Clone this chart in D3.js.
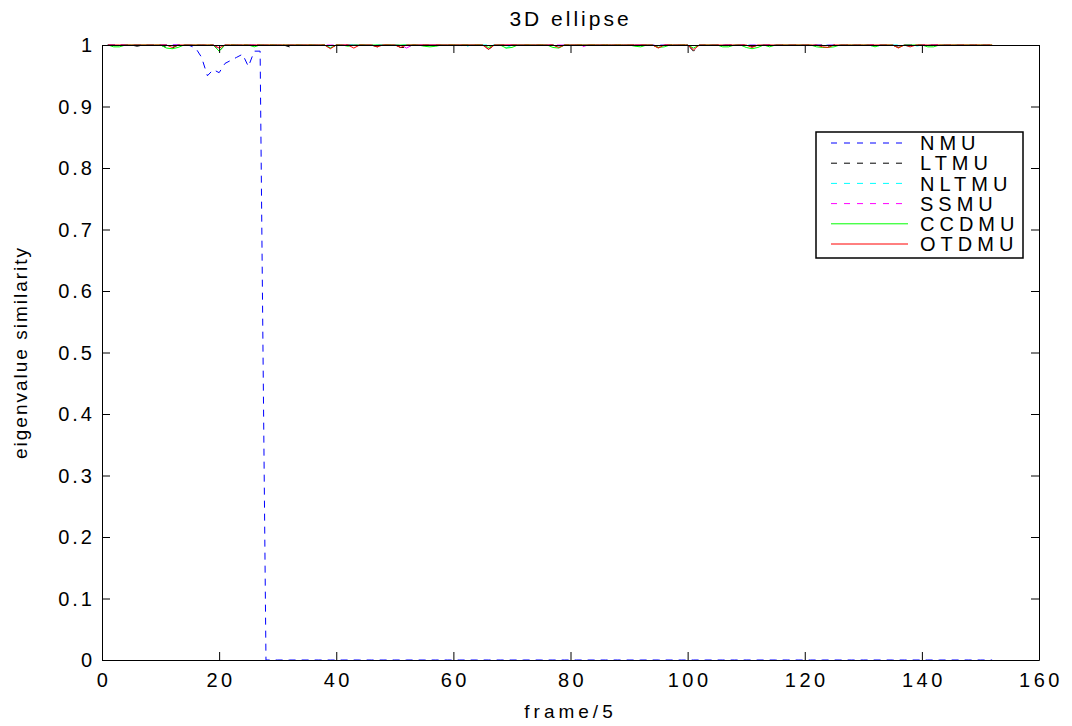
<!DOCTYPE html>
<html>
<head>
<meta charset="utf-8">
<script src="https://cdn.jsdelivr.net/npm/d3@7"></script>
<style>
body{margin:0;background:#fff;}
text{font-family:"Liberation Sans",Arial,Helvetica,sans-serif;fill:#000;}
</style>
</head>
<body>
<svg id="chart"></svg>
<script>
// values, x = 1..152
var NMU = [
1,1,1,1,1,1,1,1,1,1,
1,1,1,1,0.999,0.995,0.98,0.95,0.96,0.955,
0.97,0.975,0.98,0.985,0.965,0.99,0.99,0,0,0,
0,0,0,0,0,0,0,0,0,0,
0,0,0,0,0,0,0,0,0,0,
0,0,0,0,0,0,0,0,0,0,
0,0,0,0,0,0,0,0,0,0,
0,0,0,0,0,0,0,0,0,0,
0,0,0,0,0,0,0,0,0,0,
0,0,0,0,0,0,0,0,0,0,
0,0,0,0,0,0,0,0,0,0,
0,0,0,0,0,0,0,0,0,0,
0,0,0,0,0,0,0,0,0,0,
0,0,0,0,0,0,0,0,0,0,
0,0,0,0,0,0,0,0,0,0,
0,0];
var LTMU = [
1,1,1,1,1,0.998,1,1,1,1,
0.996,0.995,1,1,1,1,1,1,1,0.99,
1,1,1,1,1,1,1,1,1,1,
1,0.997,1,1,1,1,1,1,0.995,1,
1,1,1,1,1,1,0.997,1,1,1,
0.996,0.996,1,1,1,1,1,1,1,1,
1,1,1,1,1,0.993,1,1,1,1,
1,1,1,1,1,1,1,0.997,1,1,
1,1,1,1,1,1,1,1,1,1,
1,1,1,1,0.996,1,1,1,1,1,
0.99,1,1,1,1,1,1,1,1,1,
0.997,1,1,1,1,1,1,1,1,1,
1,1,1,0.998,1,1,1,1,1,1,
1,1,1,1,1,0.996,1,1,1,1,
1,1,1,1,1,1,1,1,1,1,
1,1];
var NLTMU = [
1,1,1,1,1,1,1,1,1,1,
1,0.997,1,1,1,1,1,1,1,0.993,
1,1,1,1,1,1,1,1,1,1,
1,1,1,1,1,1,1,1,0.996,1,
1,1,1,1,1,1,1,1,1,1,
1,1,1,1,1,1,1,1,1,1,
1,0.997,1,1,1,1,1,1,0.995,1,
1,1,1,1,1,1,1,0.998,1,1,
1,1,1,1,1,1,1,1,1,1,
1,1,1,1,1,1,1,1,1,1,
0.993,1,1,1,1,1,1,1,1,1,
1,1,1,1,1,1,1,1,1,1,
1,1,1,1,1,1,1,1,1,1,
1,0.997,1,1,1,1,1,0.997,0.998,1,
1,1,1,1,1,1,1,1,1,1,
1,1];
var SSMU = [
1,1,1,1,1,1,1,1,1,1,
1,1,1,1,1,1,1,1,1,0.994,
1,1,1,1,1,1,1,1,1,1,
1,1,1,1,1,1,1,1,1,1,
1,1,1,1,1,1,1,1,1,1,
1,0.995,1,1,1,1,1,1,1,1,
1,1,1,1,1,0.994,1,1,1,1,
1,1,1,1,1,1,1,1,1,1,
1,0.997,1,1,1,1,1,1,1,1,
1,1,1,1,1,1,1,1,1,1,
0.994,1,1,1,1,1,1,1,1,1,
1,1,1,1,1,1,1,1,1,1,
1,1,1,1,1,1,1,1,1,1,
1,1,1,1,1,0.997,1,1,1,1,
1,1,1,1,1,1,1,1,1,1,
1,1];
var CCDMU = [
1,0.997,0.997,1,1,1,1,1,1,1,
0.995,0.994,0.996,1,1,1,1,1,1,0.99,
1,1,1,1,1,0.997,1,1,1,1,
1,1,1,1,1,1,1,1,0.995,1,
1,0.998,1,1,1,1,1,1,1,1,
1,1,1,1,0.998,0.997,0.998,1,1,1,
1,1,1,1,1,0.996,1,1,0.995,0.996,
1,1,1,1,1,1,0.996,0.995,1,1,
1,1,1,1,1,1,1,1,1,1,
0.998,0.997,1,1,0.996,0.997,1,1,1,1,
0.995,1,1,1,1,0.997,0.997,1,1,0.996,
0.994,0.996,1,0.997,1,1,1,1,1,1,
1,0.997,0.996,0.996,0.997,1,1,1,1,1,
1,0.997,1,1,1,0.996,1,1,1,1,
0.997,0.997,1,1,1,1,1,1,1,1,
1,1];
var OTDMU = [
1,1,1,1,1,1,1,1,1,1,
1,0.996,1,1,1,1,1,1,1,0.995,
1,1,1,1,1,1,1,1,1,1,
1,1,1,1,1,1,1,1,0.994,1,
1,1,0.995,1,1,1,0.997,1,1,1,
0.996,1,1,1,1,1,1,1,1,1,
1,1,1,1,1,0.993,1,1,1,1,
1,1,1,1,1,1,1,0.996,1,1,
1,1,1,1,1,1,1,1,1,1,
1,1,1,1,0.995,1,1,1,1,1,
0.992,1,1,1,1,1,1,1,1,1,
0.996,1,1,1,1,1,1,1,1,1,
1,1,0.997,0.996,1,1,1,1,1,1,
1,1,1,1,1,0.995,1,0.997,1,1,
1,1,1,1,1,1,1,1,1,1,
1,1];

var seriesNames = ["NMU","LTMU","NLTMU","SSMU","CCDMU","OTDMU"];
var seriesValues = [NMU,LTMU,NLTMU,SSMU,CCDMU,OTDMU];
var seriesColors = ["#0000ff","#000000","#00ffff","#ff00ff","#00ff00","#ff0000"];
var seriesDashed = [true,true,true,true,false,false];
var xTicks = [0,20,40,60,80,100,120,140,160];
var yTicks = [0,0.1,0.2,0.3,0.4,0.5,0.6,0.7,0.8,0.9,1];

var screen = {width:1072, height:726};
var margins = {top:45, bottom:66, left:102, right:33};
var graph = {
    width:screen.width-margins.left-margins.right,
    height:screen.height-margins.top-margins.bottom
};

var svg = d3.select("#chart")
    .attr("width",screen.width)
    .attr("height",screen.height);

var xScale = d3.scaleLinear().domain([0,160]).range([0,graph.width]);
var yScale = d3.scaleLinear().domain([0,1]).range([graph.height,0]);

var g = svg.append("g")
    .attr("transform","translate("+margins.left+","+margins.top+")");

// lines
var lineGenerator = d3.line()
    .x(function(v,i){return xScale(i+1);})
    .y(function(v){return yScale(v);});

g.selectAll(".line")
    .data(seriesValues)
    .enter()
    .append("path")
    .classed("line",true)
    .attr("d",lineGenerator)
    .attr("fill","none")
    .attr("stroke",function(d,i){return seriesColors[i];})
    .attr("stroke-width",1)
    .attr("stroke-dasharray",function(d,i){return seriesDashed[i] ? "7,6" : null;});

// axes, MATLAB box with inward ticks on all four sides
var tickLen = 8;
var axes = g.append("g");
axes.append("g").attr("transform","translate(0,"+graph.height+")")
    .call(d3.axisBottom(xScale).tickValues(xTicks).tickSizeInner(-tickLen).tickSizeOuter(0).tickFormat(""));
axes.append("g")
    .call(d3.axisTop(xScale).tickValues(xTicks).tickSizeInner(-tickLen).tickSizeOuter(0).tickFormat(""));
axes.append("g")
    .call(d3.axisLeft(yScale).tickValues(yTicks).tickSizeInner(-tickLen).tickSizeOuter(0).tickFormat(""));
axes.append("g").attr("transform","translate("+graph.width+",0)")
    .call(d3.axisRight(yScale).tickValues(yTicks).tickSizeInner(-tickLen).tickSizeOuter(0).tickFormat(""));
axes.selectAll("path.domain").attr("stroke","#000").attr("stroke-width",1);
axes.selectAll(".tick line").attr("stroke","#000");

// tick labels
g.append("g").selectAll("text")
    .data(xTicks)
    .enter()
    .append("text")
    .attr("x",function(d){return xScale(d)+2;})
    .attr("y",graph.height+27)
    .attr("text-anchor","middle")
    .style("font-size","20px")
    .style("letter-spacing","3.5px")
    .text(function(d){return d;});

g.append("g").selectAll("text")
    .data(yTicks)
    .enter()
    .append("text")
    .attr("x",-7)
    .attr("y",function(d){return yScale(d);})
    .attr("dy","0.36em")
    .attr("text-anchor","end")
    .style("font-size","20px")
    .style("letter-spacing","3px")
    .text(function(d){return d;});

// labels
svg.append("text")
    .text("3D ellipse")
    .attr("x",margins.left+graph.width/2)
    .attr("y",26)
    .attr("text-anchor","middle")
    .style("font-size","21px")
    .style("letter-spacing","3px");

svg.append("text")
    .text("frame/5")
    .attr("x",margins.left+graph.width/2)
    .attr("y",718)
    .attr("text-anchor","middle")
    .style("font-size","19px")
    .style("letter-spacing","4px");

svg.append("g")
    .attr("transform","translate(27,"+(margins.top+graph.height/2)+")")
    .append("text")
    .text("eigenvalue similarity")
    .attr("text-anchor","middle")
    .attr("transform","rotate(-90)")
    .style("font-size","19px")
    .style("letter-spacing","2px");

// legend
var legend = svg.append("g").attr("transform","translate(816,132)");
legend.append("rect")
    .attr("width",207)
    .attr("height",126)
    .attr("fill","#fff")
    .attr("stroke","#000")
    .attr("stroke-width",1.5);

var items = legend.selectAll(".item")
    .data(seriesNames)
    .enter()
    .append("g")
    .classed("item",true)
    .attr("transform",function(d,i){return "translate(0,"+(11+i*20.2)+")";});

items.append("line")
    .attr("x1",15).attr("x2",92)
    .attr("stroke",function(d,i){return seriesColors[i];})
    .attr("stroke-width",1)
    .attr("stroke-dasharray",function(d,i){return seriesDashed[i] ? "6,7" : null;});

items.append("text")
    .attr("x",104)
    .attr("dy","0.36em")
    .style("font-size","20px")
    .style("letter-spacing","5px")
    .text(function(d){return d;});
</script>
</body>
</html>
